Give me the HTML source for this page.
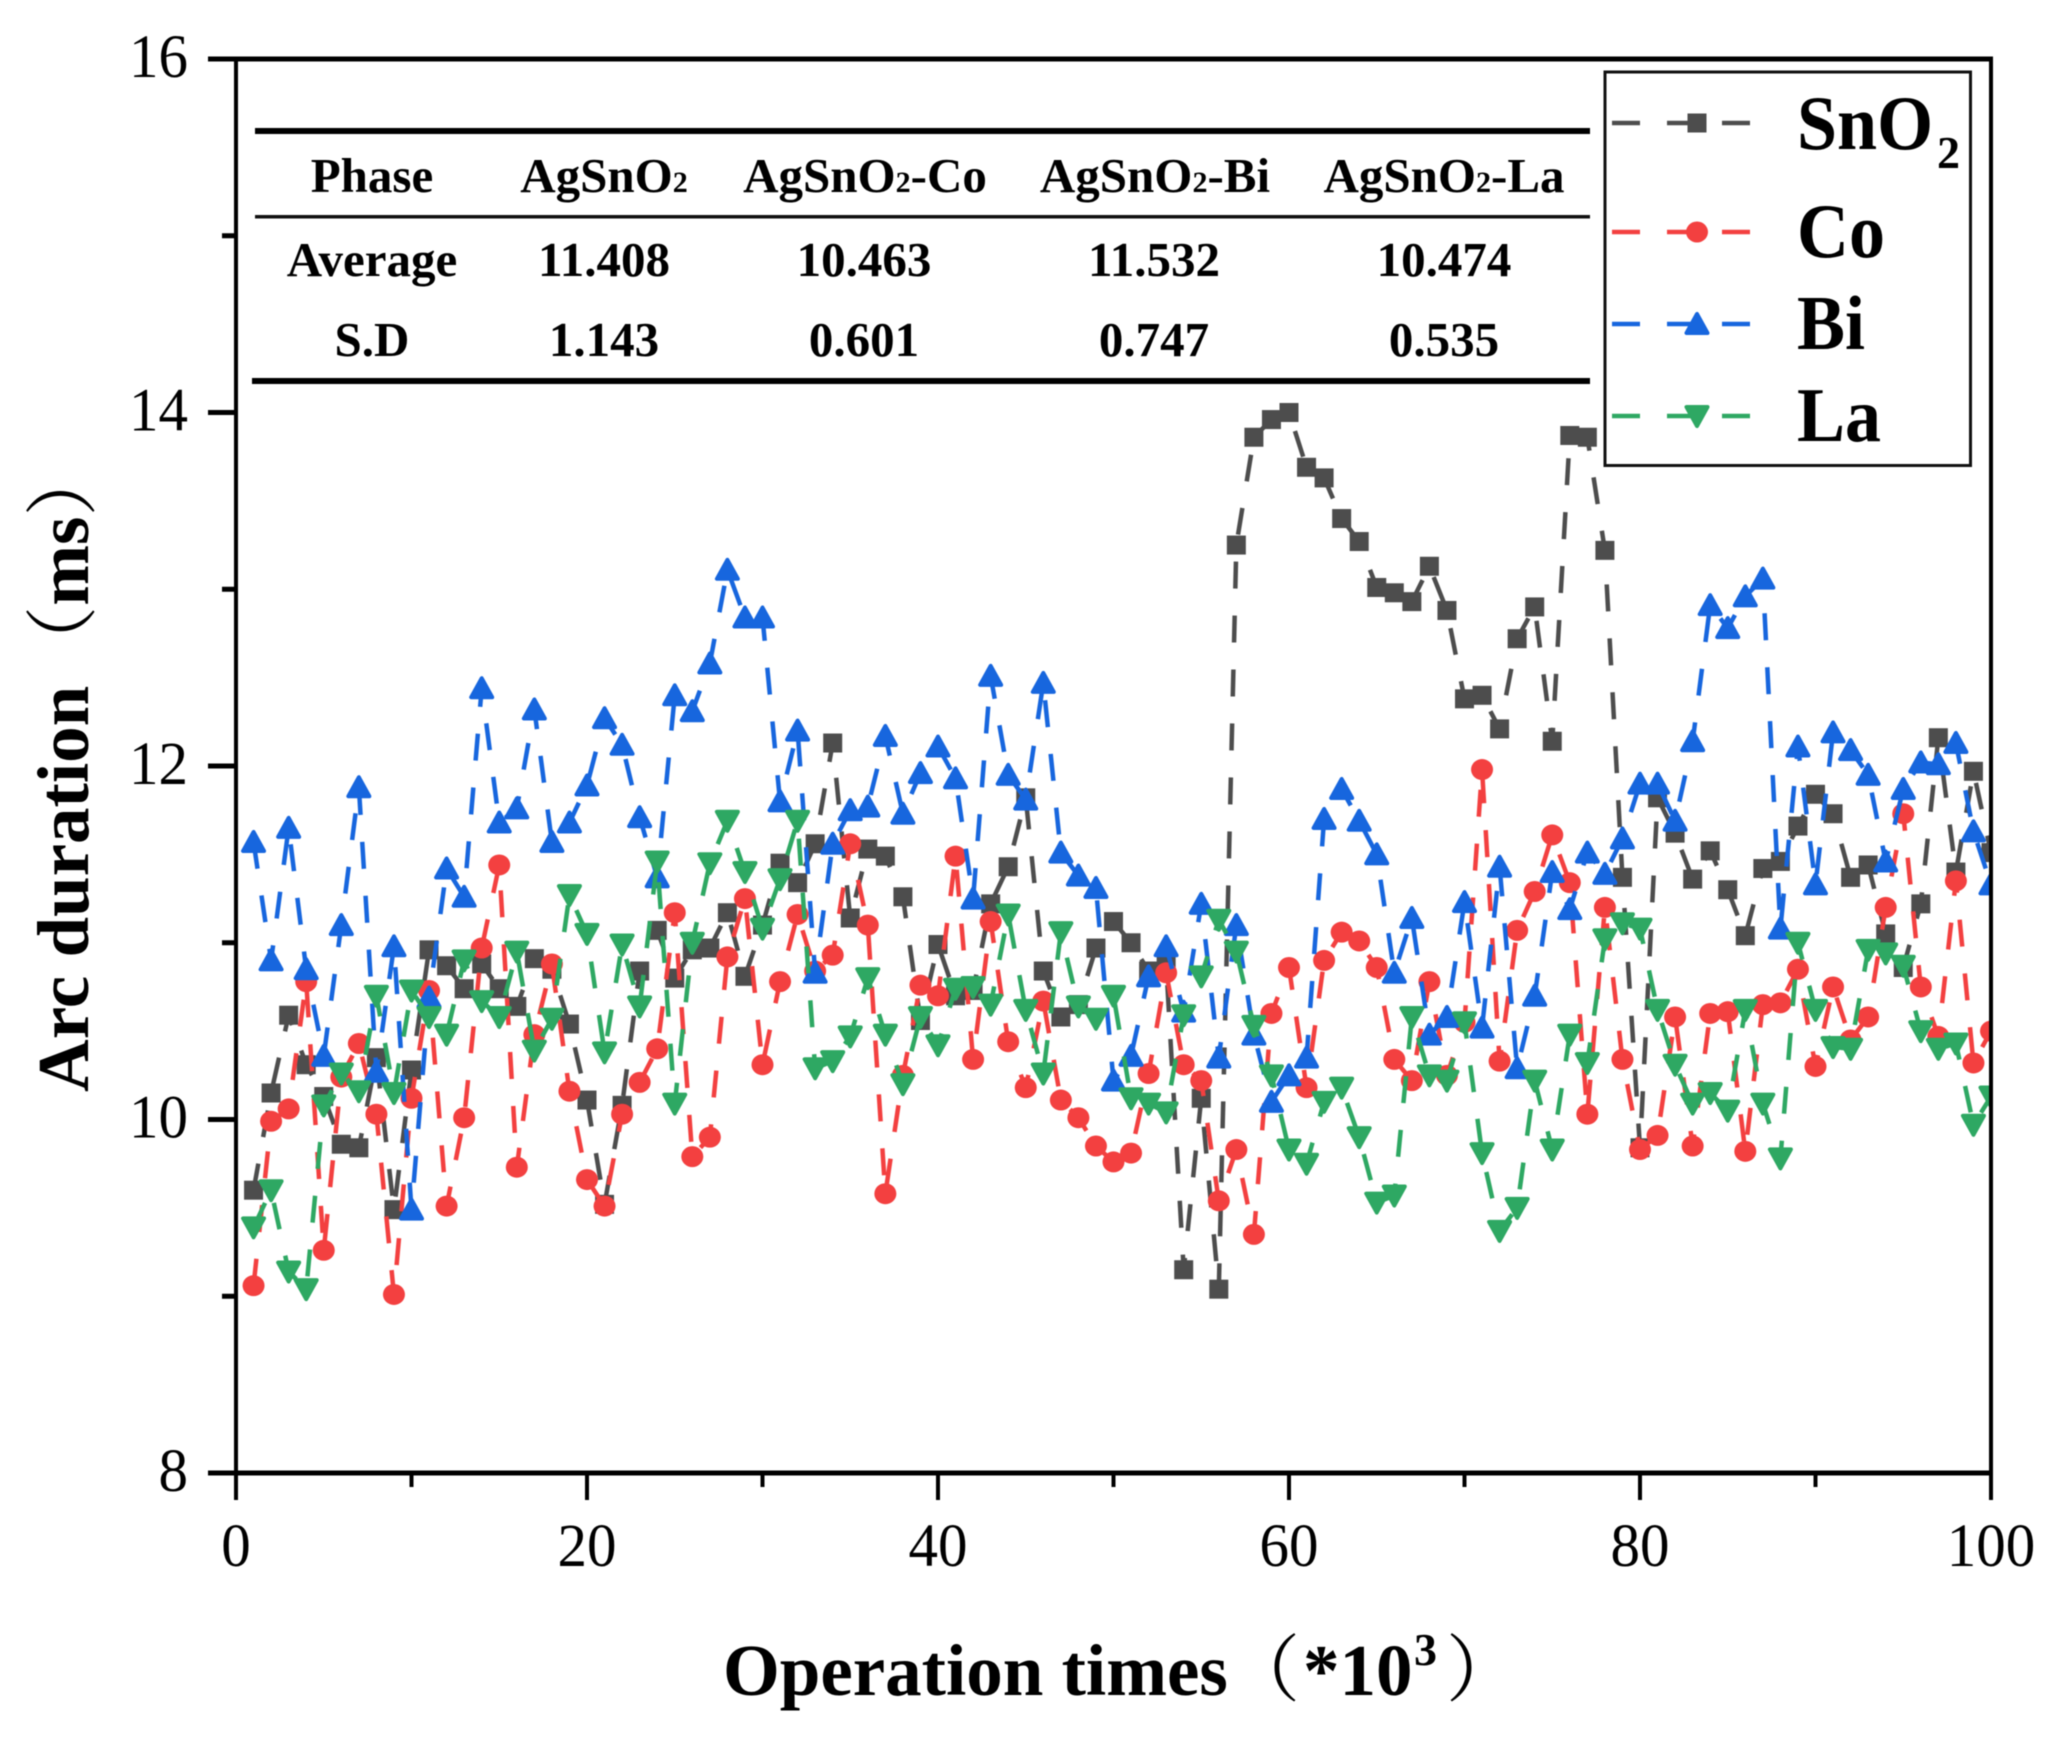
<!DOCTYPE html>
<html lang="en">
<head>
<meta charset="utf-8">
<title>Arc duration vs operation times</title>
<style>
html,body{margin:0;padding:0;background:#fff;width:2056px;height:1748px;overflow:hidden}
svg{display:block;filter:blur(0.6px)}
text{font-family:"Liberation Serif","Noto Serif CJK SC",serif;fill:#000}
.tb{font-size:49px;font-weight:700;text-anchor:middle}
.lg{font-size:72px;font-weight:700}
.tk{font-size:59px}
</style>
</head>
<body>
<svg id="chart" xmlns="http://www.w3.org/2000/svg" width="2056" height="1748" viewBox="0 0 2056 1748">
  <defs><clipPath id="plot-clip"><rect x="236" y="59" width="1755" height="1414"/></clipPath></defs>
  <rect width="2056" height="1748" fill="#fff"/>
  <g id="series-layer" clip-path="url(#plot-clip)"></g>
  <g id="axis-layer"></g>

  <text x="723" y="1695" font-size="73" font-weight="700">Operation times<tspan x="1227" font-weight="400">（</tspan><tspan x="1303">*10</tspan><tspan x="1414" y="1665" font-size="46">3</tspan><tspan x="1446" y="1695" font-weight="400">）</tspan></text>
  <text transform="translate(88,1092) rotate(-90)" font-size="73" font-weight="700">Arc duration<tspan dx="7" font-weight="400">（</tspan>ms<tspan font-weight="400">）</tspan></text>

  <g>
    <rect x="255" y="128" width="1335" height="6" fill="#000"/>
    <rect x="255" y="215" width="1335" height="3.5" fill="#111"/>
    <rect x="252" y="378" width="1338" height="6" fill="#000"/>
    <text class="tb" x="372" y="192">Phase</text>
    <text class="tb" x="604" y="192">AgSnO<tspan font-size="30">2</tspan></text>
    <text class="tb" x="865" y="192">AgSnO<tspan font-size="30">2</tspan>-Co</text>
    <text class="tb" x="1155" y="192">AgSnO<tspan font-size="30">2</tspan>-Bi</text>
    <text class="tb" x="1444" y="192">AgSnO<tspan font-size="30">2</tspan>-La</text>
    <text class="tb" x="372" y="276">Average</text>
    <text class="tb" x="604" y="276">11.408</text>
    <text class="tb" x="864" y="276">10.463</text>
    <text class="tb" x="1154" y="276">11.532</text>
    <text class="tb" x="1444" y="276">10.474</text>
    <text class="tb" x="372" y="356">S.D</text>
    <text class="tb" x="604" y="356">1.143</text>
    <text class="tb" x="864" y="356">0.601</text>
    <text class="tb" x="1154" y="356">0.747</text>
    <text class="tb" x="1444" y="356">0.535</text>
  </g>

  <g>
    <rect x="1605" y="72" width="365.5" height="393.5" fill="#fff" stroke="#111" stroke-width="3"/>
    <g id="legend-keys"></g>
    <text class="lg" transform="translate(1797,149) scale(1,1.08)">SnO</text>
    <text transform="translate(1937,168)" font-size="46" font-weight="700">2</text>
    <text class="lg" transform="translate(1797,257) scale(1,1.08)">Co</text>
    <text class="lg" transform="translate(1797,349) scale(1,1.08)">Bi</text>
    <text class="lg" transform="translate(1797,441) scale(1,1.08)">La</text>
  </g>
</svg>
<script>
// Chart data
var xTickLabels = [0, 20, 40, 60, 80, 100];
var xMinorTicks = [10, 30, 50, 70, 90];
var yTickLabels = [8, 10, 12, 14, 16];
var yMinorTicks = [9, 11, 13, 15];
var operationTimes = [1,2,3,4,5,6,7,8,9,10,11,12,13,14,15,16,17,18,19,20,21,22,23,24,25,26,27,28,29,30,31,32,33,34,35,36,37,38,39,40,41,42,43,44,45,46,47,48,49,50,51,52,53,54,55,56,57,58,59,60,61,62,63,64,65,66,67,68,69,70,71,72,73,74,75,76,77,78,79,80,81,82,83,84,85,86,87,88,89,90,91,92,93,94,95,96,97,98,99,100];
var sno2Values = [9.6,10.15,10.59,10.31,10.13,9.86,9.84,10.35,9.49,10.28,10.96,10.87,10.74,10.88,10.74,10.64,10.91,10.85,10.54,10.11,9.52,10.08,10.84,11.07,10.8,10.96,10.97,11.17,10.81,11.1,11.45,11.34,11.56,12.13,11.14,11.53,11.49,11.26,10.56,10.99,10.7,10.73,11.22,11.43,11.82,10.84,10.58,10.65,10.97,11.12,11.0,10.84,10.88,9.15,10.12,9.04,13.25,13.86,13.96,14.0,13.69,13.63,13.4,13.27,13.01,12.98,12.93,13.13,12.88,12.38,12.4,12.21,12.72,12.9,12.14,13.87,13.86,13.22,11.37,9.84,11.82,11.62,11.36,11.52,11.3,11.04,11.42,11.46,11.66,11.84,11.73,11.37,11.44,11.05,10.86,11.22,12.16,11.4,11.97,11.51];
var coValues = [9.06,9.99,10.06,10.78,9.26,10.24,10.43,10.03,9.01,10.12,10.73,9.51,10.01,10.97,11.44,9.73,10.48,10.88,10.16,9.66,9.51,10.03,10.21,10.4,11.17,9.79,9.9,10.92,11.25,10.31,10.78,11.16,10.84,10.93,11.56,11.1,9.58,10.25,10.76,10.7,11.49,10.34,11.12,10.44,10.18,10.67,10.11,10.01,9.85,9.76,9.81,10.26,10.83,10.31,10.22,9.54,9.83,9.35,10.6,10.86,10.18,10.9,11.06,11.01,10.86,10.34,10.22,10.78,10.25,10.55,11.98,10.33,11.07,11.29,11.61,11.34,10.03,11.2,10.34,9.83,9.91,10.58,9.85,10.6,10.61,9.82,10.65,10.66,10.85,10.3,10.75,10.45,10.58,11.2,11.73,10.75,10.47,11.35,10.32,10.5];
var biValues = [11.57,10.9,11.65,10.85,10.36,11.1,11.88,10.27,10.98,9.49,10.69,11.42,11.26,12.44,11.68,11.76,12.32,11.57,11.68,11.89,12.27,12.12,11.71,11.37,12.4,12.31,12.58,13.11,12.84,12.84,11.8,12.2,10.83,11.56,11.75,11.77,12.17,11.73,11.96,12.11,11.93,11.25,12.51,11.95,11.81,12.47,11.51,11.38,11.31,10.22,10.36,10.81,10.98,10.61,11.22,10.35,11.1,10.48,10.1,10.25,10.35,11.7,11.87,11.69,11.5,10.83,11.14,10.48,10.58,11.23,10.52,11.43,10.29,10.7,11.4,11.19,11.51,11.39,11.59,11.9,11.9,11.69,12.14,12.91,12.78,12.96,13.06,11.08,12.11,11.33,12.19,12.09,11.95,11.46,11.87,12.02,12.01,12.13,11.63,11.33];
var laValues = [9.39,9.6,9.14,9.04,10.08,10.26,10.16,10.7,10.15,10.73,10.58,10.48,10.9,10.67,10.58,10.95,10.39,10.57,11.27,11.05,10.38,10.99,10.64,11.46,10.09,11.0,11.45,11.69,11.4,11.08,11.36,11.69,10.29,10.33,10.47,10.8,10.48,10.2,10.58,10.42,10.74,10.75,10.65,11.16,10.62,10.26,11.06,10.64,10.57,10.7,10.12,10.09,10.04,10.59,10.81,11.13,10.95,10.53,10.25,9.83,9.75,10.1,10.18,9.9,9.53,9.57,10.58,10.25,10.22,10.55,9.81,9.37,9.5,10.22,9.83,10.48,10.32,11.02,11.11,11.08,10.62,10.31,10.09,10.15,10.05,10.62,10.09,9.78,11.0,10.62,10.41,10.4,10.96,10.94,10.87,10.5,10.4,10.43,9.97,10.13];

var SVG_NS = 'http://www.w3.org/2000/svg';
function xScale(v) { return 236 + v * 1755 / 100; }
function yScale(v) { return 1473 - (v - 8) * 1414 / 8; }

function make(tag, attrs, parent) {
  var el = document.createElementNS(SVG_NS, tag);
  for (var k in attrs) el.setAttribute(k, attrs[k]);
  parent.appendChild(el);
  return el;
}
function drawMarker(shape, cx, cy, color, parent) {
  var el;
  if (shape === 'square') {
    el = make('rect', { x: cx - 9.5, y: cy - 9.5, width: 19, height: 19, fill: color }, parent);
  } else if (shape === 'circle') {
    el = make('ellipse', { cx: cx, cy: cy, rx: 11, ry: 10.5, fill: color }, parent);
  } else if (shape === 'up') {
    el = make('polygon', { points: (cx - 10.5) + ',' + (cy + 9) + ' ' + (cx + 10.5) + ',' + (cy + 9) + ' ' + cx + ',' + (cy - 10) + '', fill: color, stroke: color, 'stroke-width': 4, 'stroke-linejoin': 'round' }, parent);
  } else {
    el = make('polygon', { points: (cx - 10.5) + ',' + (cy - 9) + ' ' + (cx + 10.5) + ',' + (cy - 9) + ' ' + cx + ',' + (cy + 10), fill: color, stroke: color, 'stroke-width': 4, 'stroke-linejoin': 'round' }, parent);
  }
  return el;
}

var seriesLayer = document.getElementById('series-layer');
var axisLayer = document.getElementById('axis-layer');
var legendKeys = document.getElementById('legend-keys');

function drawSeries(key, values, color, shape) {
  var group = make('g', {}, seriesLayer);
  
  
  var pts = values.map(function (v, i) { return xScale(operationTimes[i]) + ',' + yScale(v); }).join(' ');
  var line = make('polyline', { points: pts, fill: 'none', stroke: color, 'stroke-width': 4.5, 'stroke-dasharray': '27 27' }, group);
  
  
  values.forEach(function (v, i) {
    var m = drawMarker(shape, xScale(operationTimes[i]), yScale(v), color, group);
    
    
  });
}
drawSeries('sno2', sno2Values, '#4d4d4d', 'square');
drawSeries('co', coValues, '#f34040', 'circle');
drawSeries('bi', biValues, '#1766de', 'up');
drawSeries('la', laValues, '#2ea863', 'down');

function drawLegendKey(key, ky, color, shape) {
  var line = make('line', { x1: 1612, x2: 1750, y1: ky, y2: ky, stroke: color, 'stroke-width': 4.5, 'stroke-dasharray': '28 27' }, legendKeys);
  
  
  var m = drawMarker(shape, 1697, ky, color, legendKeys);
  
  
}
drawLegendKey('sno2', 123, '#4d4d4d', 'square');
drawLegendKey('co', 232, '#f34040', 'circle');
drawLegendKey('bi', 324, '#1766de', 'up');
drawLegendKey('la', 416, '#2ea863', 'down');

function axisRect(x, y, w, h, name) {
  var r = make('rect', { x: x, y: y, width: w, height: h, fill: '#000' }, axisLayer);
  
  
}
axisRect(234, 59, 4, 1414, 'y-axis-line');
axisRect(1989, 59, 4, 1414, 'right-axis-line');
axisRect(208, 56.5, 1785, 5, 'top-axis-line');
axisRect(208, 1470.5, 1785, 5, 'x-axis-line');

xTickLabels.forEach(function (v) {
  var px = xScale(v);
  axisRect(px - 2, 1473, 4, 27, 'x-tick-' + v);
  var t = make('text', { transform: 'translate(' + px + ',1566) scale(1,1.05)', 'text-anchor': 'middle', 'class': 'tk' }, axisLayer);
  
  
  t.textContent = v;
});
xMinorTicks.forEach(function (v) {
  axisRect(xScale(v) - 2, 1473, 4, 14, 'x-minor-tick-' + v);
});
yTickLabels.forEach(function (v) {
  var py = yScale(v);
  axisRect(208, py - 2.5, 28, 5, 'y-tick-' + v);
  var t = make('text', { transform: 'translate(188,' + (py + 18) + ') scale(1,1.05)', 'text-anchor': 'end', 'class': 'tk' }, axisLayer);
  
  
  t.textContent = v;
});
yMinorTicks.forEach(function (v) {
  axisRect(222, yScale(v) - 2.5, 14, 5, 'y-minor-tick-' + v);
});
</script>
</body>
</html>
